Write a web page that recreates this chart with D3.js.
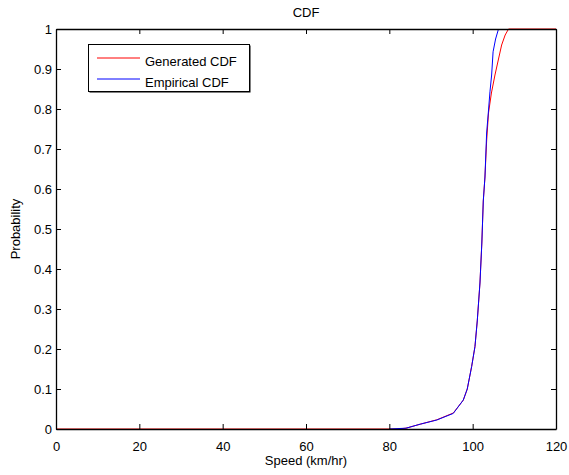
<!DOCTYPE html>
<html><head><meta charset="utf-8">
<script src="https://cdn.jsdelivr.net/npm/d3@7/dist/d3.min.js"></script>
<style>body{margin:0;background:#fff}svg{display:block}text{font-family:"Liberation Sans",Arial,sans-serif}</style>
</head><body><svg id="c" width="569" height="475"></svg>
<script>
const xTicks = [0,20,40,60,80,100,120];
const yTicks = [0,0.1,0.2,0.3,0.4,0.5,0.6,0.7,0.8,0.9,1];
const yTickLabels = ["0","0.1","0.2","0.3","0.4","0.5","0.6","0.7","0.8","0.9","1"];
const seriesNames = ["Generated CDF","Empirical CDF"];
const genX = [0,82,84,87.4,91.4,95.35,97.75,98.7,99.75,100.55,101.1,101.75,102.2,102.55,102.95,103.35,103.8,104.5,105.35,106.2,106.95,107.8,108.6,120];
const genY = [0,0,0.002,0.012,0.023,0.04,0.072,0.1,0.156,0.206,0.27,0.365,0.465,0.57,0.63,0.72,0.79,0.84,0.885,0.925,0.96,0.985,1,1];
const empX = [80,84,87.4,91.4,95.35,97.75,98.7,99.75,100.55,101.1,101.75,102.2,102.55,102.95,103.35,103.75,104.15,104.55,104.9,105.5,106.2];
const empY = [0,0.002,0.012,0.0225,0.039,0.0725,0.1,0.156,0.206,0.27,0.365,0.465,0.57,0.63,0.74,0.79,0.843,0.885,0.943,0.975,1];

const L=56,R=556,T=29,B=429;
const svg=d3.select("#c");
const x=d3.scaleLinear().domain([0,120]).range([L,R]);
const y=d3.scaleLinear().domain([0,1]).range([B,T]);

const line=d3.line().x(d=>x(d[0])).y(d=>y(d[1]));
const gen=genX.map((v,i)=>[v,genY[i]]);
const emp=empX.map((v,i)=>[v,empY[i]]);
svg.append("path").attr("d",line(gen)).attr("fill","none").attr("stroke","#ff0000").attr("stroke-width",1);
svg.append("path").attr("d",line(emp)).attr("fill","none").attr("stroke","#0000ff").attr("stroke-width",1);

const fs="13px";
const ax=svg.append("g").attr("transform",`translate(0,${B})`).call(d3.axisBottom(x).tickValues(xTicks).tickSizeInner(-5).tickSizeOuter(0).tickPadding(13));
const ay=svg.append("g").attr("transform",`translate(${L},0)`).call(d3.axisLeft(y).tickValues(yTicks).tickFormat((d,i)=>yTickLabels[i]).tickSizeInner(-5).tickSizeOuter(0).tickPadding(4));
const at=svg.append("g").attr("transform",`translate(0,${T})`).call(d3.axisTop(x).tickValues(xTicks).tickSizeInner(-5).tickSizeOuter(0).tickFormat(""));
const ar=svg.append("g").attr("transform",`translate(${R},0)`).call(d3.axisRight(y).tickValues(yTicks).tickSizeInner(-5).tickSizeOuter(0).tickFormat(""));
[ax,ay,at,ar].forEach(g=>{g.selectAll("text").attr("font-size",fs).attr("fill","#000").attr("font-family","Liberation Sans, Arial, sans-serif");g.selectAll("line").attr("stroke","#000");g.select(".domain").attr("stroke","#000").attr("stroke-width",1.3);});
ax.selectAll("text").attr("y",13).attr("dy","0.71em");

svg.append("text").attr("x",(L+R)/2).attr("y",17).attr("text-anchor","middle").attr("font-size",fs).text("CDF");
svg.append("text").attr("x",(L+R)/2).attr("y",465).attr("text-anchor","middle").attr("font-size",fs).text("Speed (km/hr)");
svg.append("text").attr("transform",`translate(20,${(T+B)/2}) rotate(-90)`).attr("text-anchor","middle").attr("font-size",fs).text("Probability");

// legend
const lg=svg.append("g");
lg.append("rect").attr("x",89.5).attr("y",45.5).attr("width",161).attr("height",47).attr("fill","#000");
lg.append("rect").attr("x",88.5).attr("y",44.5).attr("width",161).attr("height",47).attr("fill","#fff").attr("stroke","#000");
const colors=["#ff0000","#0000ff"];
seriesNames.forEach((n,i)=>{
  const yy=58+i*21;
  lg.append("line").attr("x1",97).attr("x2",140).attr("y1",yy).attr("y2",yy).attr("stroke",colors[i]);
  lg.append("text").attr("x",145).attr("y",yy+8).attr("font-size",fs).text(n);
});
</script></body></html>
